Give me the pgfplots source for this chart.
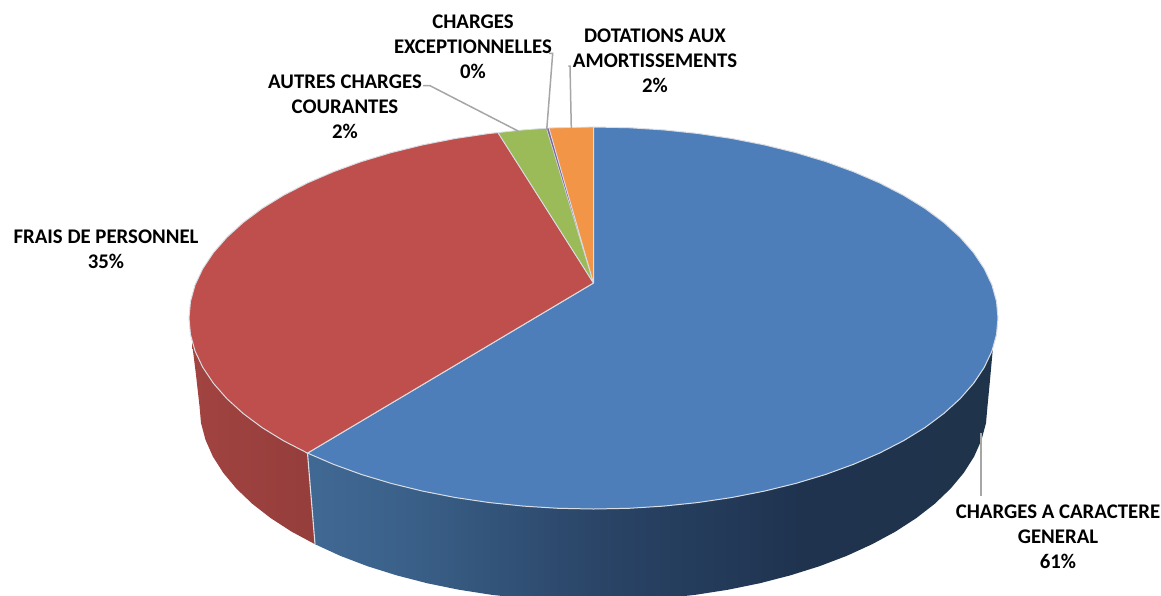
\documentclass[border=0pt]{standalone}
\usepackage{fontspec}
\setmainfont{Carlito}
\usepackage{pgfplots}
\pgfplotsset{compat=1.18}
\definecolor{pblue}{HTML}{4D7EBA}
\definecolor{pred}{HTML}{BE4F4C}
\definecolor{pgreen}{HTML}{9BBB59}
\definecolor{ppurple}{HTML}{8064A2}
\definecolor{porange}{HTML}{F39546}
\definecolor{edge}{HTML}{D9DEE4}
\definecolor{lead}{HTML}{A6A6A6}
\pgfdeclarehorizontalshading{blueside}{100bp}{
  rgb(0bp)=(0.25,0.41,0.58);
  rgb(25bp)=(0.25,0.41,0.58);
  rgb(32bp)=(0.23,0.38,0.54);
  rgb(46bp)=(0.165,0.27,0.405);
  rgb(61bp)=(0.12,0.20,0.31);
  rgb(75bp)=(0.12,0.20,0.29);
  rgb(100bp)=(0.12,0.20,0.29)}
\newcommand{\lab}[3]{\node[align=center,font=\fontsize{20.8}{25}\selectfont\bfseries,inner sep=0pt] at (axis cs:#1,#2) {#3};}
\begin{document}
\begin{tikzpicture}
\begin{axis}[
  scale only axis, width=1161pt, height=595pt,
  xmin=0, xmax=1161, ymin=0, ymax=595,
  y dir=reverse, hide axis,
]
% side walls (upper edge is hidden below the top face)
\addplot[draw=none, left color=pred!85!black, right color=pred!78!black] coordinates {
  (192,343) (196,375) (199.5,406) (201,423) (205.5,439.9) (212.9,456.6) (223.3,472.9)
  (236.4,488.6) (252.3,503.8) (270.7,518.1) (291.7,531.7) (315,544.2) (307.5,453)};
\addplot[draw=none, shade, shading=blueside, shading angle=0] coordinates {
  (307.5,453) (315,544.2) (340.2,555.8) (367.5,566.2) (396.5,575.3) (427,583.2)
  (458.8,589.7) (491.5,594.8) (525.1,598.5) (559.2,600.8) (593.5,601.5) (627.8,600.8)
  (661.9,598.5) (695.5,594.8) (728.2,589.7) (760,583.2) (790.5,575.3) (819.5,566.2)
  (846.8,555.8) (872.1,544.2) (895.3,531.7) (916.3,518.1) (934.7,503.8) (950.6,488.6)
  (963.7,472.9) (974.1,456.6) (981.5,439.9) (986,423) (987.5,406) (990,380) (993,347)};
\addplot[edge, line width=1.1pt] coordinates {(307.5,453) (315,544.2)};
% top face
\addplot[fill=pblue, draw=edge, line width=1pt] coordinates {
  (593.5,283) (593.5,127) (628.8,127.7) (663.7,129.9) (698.2,133.5) (731.8,138.5)
  (764.4,144.9) (795.8,152.6) (825.5,161.5) (853.5,171.7) (879.5,182.9) (903.4,195.2)
  (924.9,208.4) (943.8,222.5) (960.1,237.3) (973.6,252.7) (984.2,268.6) (991.9,284.8)
  (996.5,301.4) (998,318) (996.5,334.6) (991.9,351.2) (984.2,367.4) (973.6,383.3)
  (960.1,398.7) (943.8,413.5) (924.9,427.6) (903.4,440.8) (879.5,453.1) (853.5,464.3)
  (825.5,474.5) (795.8,483.4) (764.4,491.1) (731.8,497.5) (698.2,502.5) (663.7,506.1)
  (628.8,508.3) (593.5,509) (558.2,508.3) (523.3,506.1) (488.8,502.5) (455.2,497.5)
  (422.6,491.1) (391.2,483.4) (361.5,474.5) (333.5,464.3) (307.5,453.1) (593.5,283)};
\addplot[fill=pred, draw=edge, line width=1pt] coordinates {
  (593.5,283) (307.5,453.1) (283.6,440.8) (262.1,427.6) (243.2,413.5) (226.9,398.7)
  (213.4,383.3) (202.8,367.4) (195.1,351.2) (190.5,334.6) (189,318) (190.5,301.4)
  (195.1,284.8) (202.8,268.6) (213.4,252.7) (226.9,237.3) (243.2,222.5) (262.1,208.4)
  (283.6,195.2) (307.5,182.9) (333.5,171.7) (361.5,161.5) (391.2,152.6) (422.6,144.9)
  (455.2,138.5) (488.8,133.5) (498,132.6) (593.5,283)};
\addplot[fill=pgreen, draw=edge, line width=0.8pt] coordinates {
  (593.5,283) (498,132.6) (523.3,129.9) (546.5,128.2) (593.5,283)};
\addplot[fill=ppurple, draw=edge, line width=0.4pt] coordinates {
  (593.5,283) (546.5,128.2) (549,128) (593.5,283)};
\addplot[fill=porange, draw=edge, line width=0.8pt] coordinates {
  (593.5,283) (549,128) (558.2,127.7) (593.5,127) (593.5,283)};
% leader lines
\addplot[lead, line width=1.5pt] coordinates {(568.3,66) (570,66) (571.3,128)};
\addplot[lead, line width=1.5pt] coordinates {(549,53.3) (552.7,53.3) (546.7,130)};
\addplot[lead, line width=1.5pt] coordinates {(423,85.7) (430,85.7) (520,132)};
\addplot[lead, line width=1.5pt] coordinates {(981,433) (981,496)};
% labels
\lab{473}{46.5}{CHARGES\\EXCEPTIONNELLES\\0\%}
\lab{655}{61}{DOTATIONS AUX\\AMORTISSEMENTS\\2\%}
\lab{345}{106.5}{AUTRES CHARGES\\COURANTES\\2\%}
\lab{106}{249.5}{FRAIS DE PERSONNEL\\35\%}
\lab{1058}{537}{CHARGES A CARACTERE\\GENERAL\\61\%}
\end{axis}
\pgfresetboundingbox
\path (current axis.south west) rectangle (current axis.north east);
\end{tikzpicture}
\end{document}
